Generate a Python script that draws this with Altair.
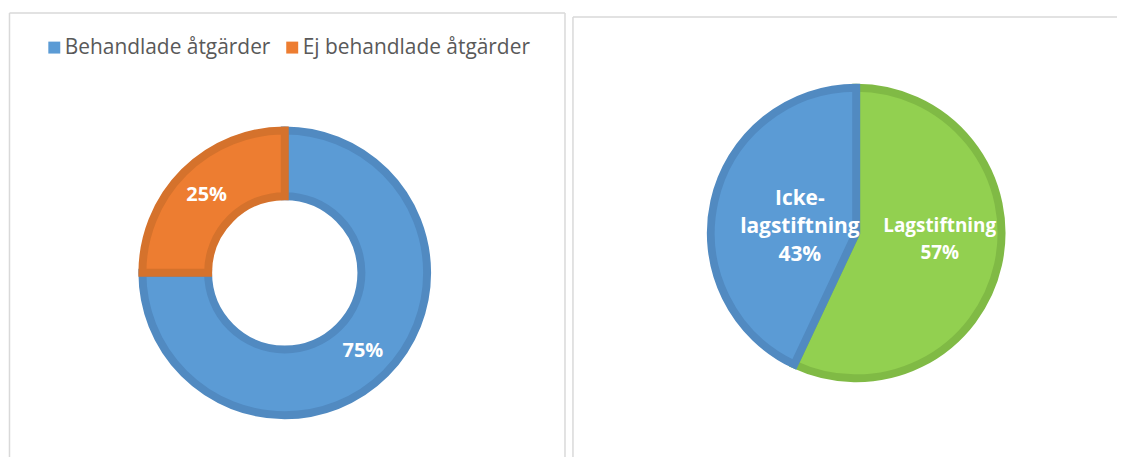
import altair as alt
import pandas as pd

# ---- data ----
left_categories = ["Behandlade åtgärder", "Ej behandlade åtgärder"]
left_values = [75, 25]
left_fill = ["#5B9BD5", "#ED7D31"]
left_edge = ["#518AC1", "#D5722C"]

right_categories = ["Lagstiftning", "Icke-lagstiftning"]
right_values = [57, 43]
right_fill = ["#92D050", "#5B9BD5"]
right_edge = ["#80BA45", "#518AC1"]

FONT = "Open Sans"
BORDER = "#D9D9D9"

left_df = pd.DataFrame({"cat": left_categories, "value": left_values})
right_df = pd.DataFrame({"cat": right_categories, "value": right_values})


def rule(**enc):
    return alt.Chart(alt.Data(values=[{}])).mark_rule(
        color=BORDER, strokeWidth=1.5
    ).encode(**enc)


theta = alt.Theta("value:Q", stack=True)
order = alt.Order("idx:Q", sort="ascending")

# ---- left panel: donut ----
LX, LY = 277, 265
base_l = alt.Chart(left_df).transform_window(idx="row_number()")
donut = base_l.mark_arc(outerRadius=143, innerRadius=77, strokeWidth=8).encode(
    theta=theta,
    order=order,
    x=alt.value(LX),
    y=alt.value(LY),
    color=alt.Color(
        "cat:N",
        scale=alt.Scale(domain=left_categories, range=left_fill),
        legend=alt.Legend(
            orient="none", legendX=35, legendY=28, direction="horizontal",
            title=None, symbolType="square", symbolSize=144,
            symbolStrokeWidth=0, labelFont=FONT, labelFontSize=21,
            labelColor="#595959", columnPadding=11, labelOffset=0,
            labelLimit=0, padding=0,
        ),
    ),
    stroke=alt.Stroke(
        "cat:N", scale=alt.Scale(domain=left_categories, range=left_edge), legend=None
    ),
)
donut_text = base_l.transform_calculate(lab="datum.value + '%'").mark_text(
    radius=111, font=FONT, fontSize=20, fontWeight="bold", color="white"
).encode(theta=theta, order=order, x=alt.value(LX), y=alt.value(LY), text="lab:N")

left = alt.layer(
    rule(x=alt.value(0.5), y=alt.value(4), y2=alt.value(450)),
    rule(x=alt.value(558.5), y=alt.value(4), y2=alt.value(450)),
    rule(x=alt.value(0.5), x2=alt.value(558.5), y=alt.value(4)),
    donut,
    donut_text,
).properties(width=558, height=450)

# ---- right panel: pie ----
RX, RY = 285, 225
base_r = (
    alt.Chart(right_df)
    .transform_window(idx="row_number()")
    .transform_window(cum="sum(value)", sort=[alt.SortField("idx")], frame=[None, 0])
    .transform_joinaggregate(total="sum(value)")
    .transform_calculate(
        mid="(datum.cum - datum.value / 2) / datum.total",
        lab="replace(datum.cat, '-', '-\\n') + '\\n' + datum.value + '%'",
    )
)
pie = base_r.mark_arc(outerRadius=146, strokeWidth=8).encode(
    theta=theta,
    order=order,
    x=alt.value(RX),
    y=alt.value(RY),
    color=alt.Color(
        "cat:N", scale=alt.Scale(domain=right_categories, range=right_fill), legend=None
    ),
    stroke=alt.Stroke(
        "cat:N", scale=alt.Scale(domain=right_categories, range=right_edge), legend=None
    ),
)
mid_theta = alt.Theta("mid:Q", stack=None, scale=alt.Scale(domain=[0, 1]))
lab_green = base_r.transform_filter(alt.datum.cat == right_categories[0]).mark_text(
    radius=86, dy=-26, font=FONT, fontSize=19, fontWeight="bold", color="white",
    lineBreak="\n", lineHeight=27,
).encode(theta=mid_theta, x=alt.value(RX), y=alt.value(RY), text="lab:N")
lab_blue = base_r.transform_filter(alt.datum.cat == right_categories[1]).mark_text(
    radius=58, dy=-21, font=FONT, fontSize=21, fontWeight="bold", color="white",
    lineBreak="\n", lineHeight=28,
).encode(theta=mid_theta, x=alt.value(RX), y=alt.value(RY), text="lab:N")

right = (
    alt.layer(
        rule(x=alt.value(0.5), y=alt.value(8), y2=alt.value(450)),
        rule(x=alt.value(0.5), x2=alt.value(547), y=alt.value(8)),
        pie,
        lab_green,
        lab_blue,
    )
    .resolve_scale(theta="independent")
    .properties(width=547, height=450)
)

chart = (
    alt.hconcat(left, right, spacing=5)
    .resolve_scale(color="independent", stroke="independent", theta="independent")
    .properties(padding=0, background="white")
    .configure_view(stroke=None)
)

chart.save("out.html", embed_options={"renderer": "svg", "actions": False})
